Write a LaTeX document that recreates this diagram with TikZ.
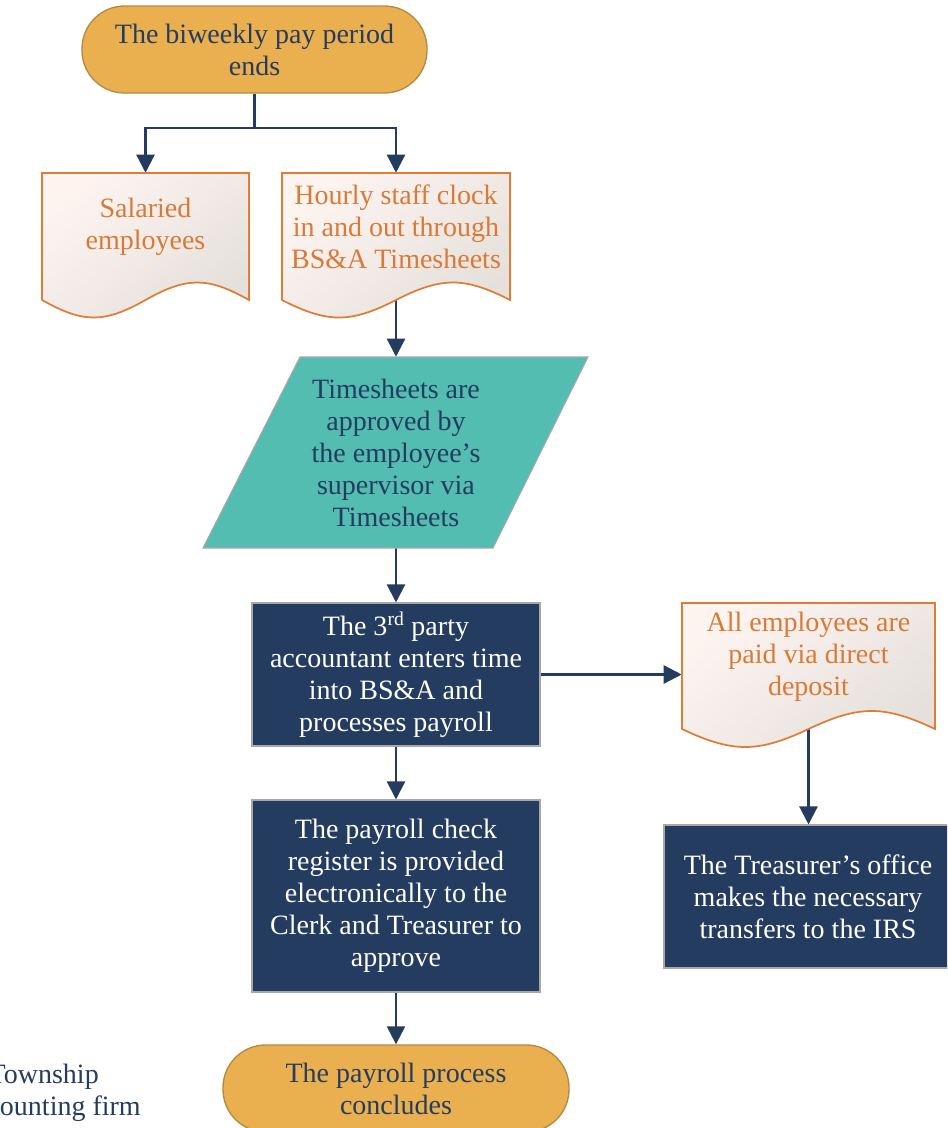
\documentclass[tikz,border=0pt]{standalone}
\usepackage{fontspec}
\setmainfont{Liberation Serif}
\usetikzlibrary{arrows.meta}

\definecolor{navy}{HTML}{243C5F}
\definecolor{termfill}{HTML}{EAB04F}
\definecolor{termedge}{HTML}{B38B40}
\definecolor{teal}{HTML}{52BDB0}
\definecolor{boxedge}{HTML}{A8A8A8}
\definecolor{docedge}{HTML}{E07C35}
\definecolor{doctext}{HTML}{DA7A37}
\definecolor{docA}{HTML}{FDF4F0}
\definecolor{docB}{HTML}{E5E0DB}

\pgfdeclarelayer{lines}
\pgfdeclarelayer{shapes}
\pgfsetlayers{lines,shapes,main}

% document symbol: left, right, top, side bottom, wave amplitude (pixel units)
\newcommand{\docsymbol}[5]{%
  \path[draw=docedge, line width=1.3pt, top color=docA, bottom color=docB, shading angle=40]
    (#1,#3) -- (#2,#3) -- (#2,#4)
    .. controls ({#2-0.4*(#2-#1)/2},{#4-1.333*#5}) and ({#2-0.6*(#2-#1)/2},{#4-1.333*#5}) .. ({(#1+#2)/2},#4)
    .. controls ({(#1+#2)/2-0.4*(#2-#1)/2},{#4+1.333*#5}) and ({(#1+#2)/2-0.6*(#2-#1)/2},{#4+1.333*#5}) .. (#1,#4)
    -- cycle;}

\tikzset{
  every node/.style={font=\fontsize{21pt}{24pt}\selectfont, align=center, inner sep=0pt},
  terminal/.style={rectangle, rounded corners=32pt, draw=termedge, line width=1pt,
    fill=termfill, text=navy},
  process/.style={rectangle, draw=boxedge, line width=0.8pt, fill=navy, text=white,
    minimum width=288*0.75pt},
  doctext/.style={rectangle, text=doctext, minimum height=108*0.75pt},
  iotext/.style={rectangle, text=navy, minimum width=200*0.75pt, minimum height=191*0.75pt},
  arr/.style={draw=navy, line width=1.7pt, -{Triangle[width=13.5pt,length=13.5pt]}},
  link/.style={draw=navy, line width=1.7pt},
  note/.style={text=navy, anchor=base east}
}

\begin{document}
\begin{tikzpicture}[x=0.75pt,y=-0.75pt]
\useasboundingbox (0,0) rectangle (947,1128);
\clip (0,0) rectangle (947,1128);

% flow steps
\node[terminal, minimum width=345*0.75pt, minimum height=87*0.75pt] (start) at (254.5,49.5)
  {The biweekly pay period\\ends};
\node[doctext, minimum width=207*0.75pt] (sal) at (145.5,227) {Salaried\\employees};
\node[doctext, minimum width=228*0.75pt] (hour) at (396,227)
  {Hourly staff clock\\in and out through\\BS\&A Timesheets};
\node[iotext] (appr) at (396,452.5)
  {Timesheets are\\approved by\\the employee’s\\supervisor via\\Timesheets};
\node[process, minimum height=143*0.75pt] (acct) at (396,674.5)
  {The 3\textsuperscript{rd} party\\accountant enters time\\into BS\&A and\\processes payroll};
\node[doctext, minimum width=253*0.75pt] (dep) at (808.5,657)
  {All employees are\\paid via direct\\deposit};
\node[process, minimum height=143*0.75pt] (irs) at (808,896.5)
  {The Treasurer’s office\\makes the necessary\\transfers to the IRS};
\node[process, minimum height=192*0.75pt] (reg) at (396,896)
  {The payroll check\\register is provided\\electronically to the\\Clerk and Treasurer to\\approve};
\node[terminal, minimum width=346*0.75pt, minimum height=87*0.75pt] (end) at (396,1088.5)
  {The payroll process\\concludes};

% legend text at the lower left
\node[note] (twp) at (99,1083) {Township};
\node[note] (firm) at (141,1115) {ounting firm};

% outlines of the document and input symbols
\begin{pgfonlayer}{shapes}
  \docsymbol{42}{249}{173}{300}{17.5}
  \docsymbol{282}{510}{173}{300}{17.5}
  \docsymbol{682}{935}{603}{729}{18}
  \path[draw=boxedge, line width=0.8pt, fill=teal]
    (300,357) -- (588,357) -- (493,548) -- (203,548) -- cycle;
\end{pgfonlayer}

% connectors
\begin{pgfonlayer}{lines}
  \coordinate (split) at (254.5,128);
  \draw[link] (start.south) -- (split);
  \draw[arr] (split) -| (sal.north);
  \draw[arr] (split) -| (hour.north);
  \draw[arr] (hour.south) -- (appr.north);
  \draw[arr] (appr.south) -- (acct.north);
  \draw[arr] (acct.east) -- (acct.east -| dep.west);
  \draw[arr] (dep.south) -- (dep.south |- irs.north);
  \draw[arr] (acct.south) -- (reg.north);
  \draw[arr] (reg.south) -- (end.north);
\end{pgfonlayer}
\end{tikzpicture}
\end{document}
